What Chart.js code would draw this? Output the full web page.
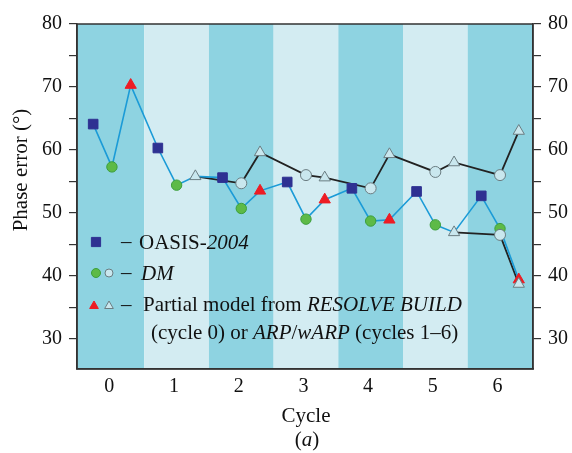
<!DOCTYPE html>
<html>
<head>
<meta charset="utf-8">
<script src="https://cdn.jsdelivr.net/npm/chart.js@4.4.0/dist/chart.umd.min.js"></script>
<style>
  html, body { margin: 0; padding: 0; background: #fff; }
</style>
</head>
<body>
<canvas id="phaseChart" width="572" height="453"></canvas>
<script>
// values, one entry per refinement cycle
const cycles = [0, 1, 2, 3, 4, 5, 6]
const oasis = [64.1, 60.3, 55.6, 54.9, 53.9, 53.4, 52.7]
const dmFilled = [57.3, 54.4, 50.7, 49.0, 48.7, 48.1, 47.5]
const partialFilled = [70.3, null, 53.5, 52.1, 48.9, null, 39.4]
const dmOpen = [null, null, 54.7, 56.0, 53.9, 56.5, 56.0]
const partialOpenUpper = [null, 55.8, 59.6, 55.6, 59.3, 58.0, 63.0]
const dmOpenLower = [null, null, null, null, null, null, 46.5]
const partialOpenLower = [null, null, null, null, null, 46.9, 38.7]

const yTicks = [30, 35, 40, 45, 50, 55, 60, 65, 70, 75, 80]

const legendRows = [
  [['OASIS-', false], ['2004', true]],
  [['DM', true]],
  [['Partial model from ', false], ['RESOLVE BUILD', true]],
  [['(cycle 0) or ', false], ['ARP', true], ['/', false], ['wARP', true], [' (cycles 1\u20136)', false]]
]

// where each marker sits inside its cycle band
const OFF_OASIS = -0.25
const OFF_DM = 0.04
const OFF_PARTIAL = 0.33
const BAND_SHIFT = 0.54

const SERIF = "'Liberation Serif', 'Times New Roman', serif"
const NAVY = '#2e3192'
const GREEN = '#5dba47'
const RED = '#ed1c24'
const PALE = '#c9e7ee'
const LINE_BLUE = '#1b9bd7'
const LINE_BLACK = '#222'

const pts = (vals, off) => cycles
  .map((c, i) => vals[i] == null ? null : { x: c + off, y: vals[i] })
  .filter(Boolean)

const bluePath = cycles.flatMap((c, i) => [
  { x: c + OFF_OASIS, y: oasis[i] },
  { x: c + OFF_DM, y: dmFilled[i] },
  { x: c + OFF_PARTIAL, y: partialFilled[i] ?? partialOpenLower[i] ?? partialOpenUpper[i] }
])

const blackPath = (dmVals, partVals) => cycles.flatMap((c, i) => [
  dmVals[i] != null && { x: c + OFF_DM, y: dmVals[i] },
  partVals[i] != null && { x: c + OFF_PARTIAL, y: partVals[i] }
]).filter(Boolean)

const lineSet = (data, color, width) => ({
  data, showLine: true, borderColor: color, borderWidth: width,
  pointRadius: 0, order: 3
})

const markerSet = (data, style, radius, fill, stroke, order) => ({
  data, showLine: false, pointStyle: style, pointRadius: radius,
  backgroundColor: fill, borderColor: stroke, borderWidth: 1, order
})

const bandPlugin = {
  id: 'bands',
  beforeDraw(chart) {
    const { ctx, chartArea: a, scales: { x } } = chart
    ctx.save()
    ctx.fillStyle = '#fff'
    ctx.fillRect(0, 0, chart.width, chart.height)
    const edges = [x.min, ...cycles.slice(0, -1).map(c => c + BAND_SHIFT), x.max]
    for (let i = 0; i < edges.length - 1; i++) {
      const l = x.getPixelForValue(edges[i])
      const r = x.getPixelForValue(edges[i + 1])
      ctx.fillStyle = i % 2 === 0 ? '#8ed3e1' : '#d3ecf2'
      ctx.fillRect(l, a.top, r - l, a.bottom - a.top)
    }
    ctx.restore()
  }
}

const drawRuns = (ctx, x, y, runs, size) => {
  runs.forEach(([text, italic]) => {
    ctx.font = (italic ? 'italic ' : '') + size + 'px ' + SERIF
    ctx.fillText(text, x, y)
    x += ctx.measureText(text).width
  })
}

const runsWidth = (ctx, runs, size) => runs.reduce((w, [text, italic]) => {
  ctx.font = (italic ? 'italic ' : '') + size + 'px ' + SERIF
  return w + ctx.measureText(text).width
}, 0)

const marker = (ctx, style, r, fill, stroke, x, y) => {
  ctx.fillStyle = fill
  ctx.strokeStyle = stroke
  ctx.lineWidth = 1
  Chart.helpers.drawPoint(ctx, { pointStyle: style, radius: r, rotation: 0, borderWidth: 1 }, x, y)
}

const decorPlugin = {
  id: 'decor',
  afterDraw(chart) {
    const { ctx, chartArea: a } = chart
    ctx.save()
    ctx.strokeStyle = '#333'
    ctx.lineWidth = 1.5
    ctx.strokeRect(a.left, a.top, a.right - a.left, a.bottom - a.top)

    // legend inside the plot
    marker(ctx, 'rect', 6.5, NAVY, NAVY, 96, 242)
    marker(ctx, 'circle', 4.5, GREEN, '#3c9f3c', 96, 273)
    marker(ctx, 'circle', 4, PALE, '#6b7d82', 109, 273)
    marker(ctx, 'triangle', 5, RED, RED, 94, 306)
    marker(ctx, 'triangle', 5, PALE, '#6b7d82', 109, 306)

    ctx.fillStyle = '#111'
    ctx.textBaseline = 'middle'
    ctx.textAlign = 'left'
    ctx.font = '21px ' + SERIF
    ;[242, 273, 305].forEach(y => ctx.fillText('\u2013', 121, y))
    drawRuns(ctx, 139, 243, legendRows[0], 21)
    drawRuns(ctx, 141, 274, legendRows[1], 21)
    drawRuns(ctx, 143, 305, legendRows[2], 21)
    drawRuns(ctx, 151, 333, legendRows[3], 21)

    // axis titles
    ctx.textBaseline = 'alphabetic'
    ctx.textAlign = 'center'
    ctx.font = '21px ' + SERIF
    ctx.fillText('Cycle', 306, 422)
    const sub = [['(', false], ['a', true], [')', false]]
    ctx.textAlign = 'left'
    drawRuns(ctx, 307 - runsWidth(ctx, sub, 21) / 2, 446, sub, 21)

    ctx.translate(21, 170)
    ctx.rotate(-Math.PI / 2)
    ctx.textAlign = 'center'
    ctx.textBaseline = 'middle'
    ctx.font = '21px ' + SERIF
    ctx.fillText('Phase error (\u00b0)', 0, 0)
    ctx.restore()
  }
}

const yAxis = (position, width) => ({
  type: 'linear', position, min: 25.2, max: 80,
  afterBuildTicks: axis => { axis.ticks = yTicks.map(v => ({ value: v })) },
  afterFit: axis => { axis.width = width },
  ticks: {
    color: '#111', padding: 7, font: { family: SERIF, size: 20 },
    callback: v => v % 10 === 0 ? v : ''
  },
  grid: { drawOnChartArea: false, drawTicks: true, tickLength: 8, color: '#333', lineWidth: 1.2 },
  border: { display: true, color: '#333', width: 1.5 }
})

new Chart(document.getElementById('phaseChart'), {
  type: 'scatter',
  data: {
    datasets: [
      lineSet(bluePath, LINE_BLUE, 1.6),
      lineSet(blackPath(dmOpen, partialOpenUpper), LINE_BLACK, 1.8),
      lineSet(blackPath(dmOpenLower, partialOpenLower), LINE_BLACK, 1.8),
      markerSet(pts(oasis, OFF_OASIS), 'rect', 6.8, NAVY, NAVY, 2),
      markerSet(pts(dmFilled, OFF_DM), 'circle', 5.2, GREEN, '#3c9f3c', 2),
      markerSet(pts(partialFilled, OFF_PARTIAL), 'triangle', 6.5, RED, RED, 2),
      markerSet(pts(dmOpen, OFF_DM), 'circle', 5.5, PALE, '#6b7d82', 1),
      markerSet(pts(dmOpenLower, OFF_DM), 'circle', 5.5, PALE, '#6b7d82', 1),
      markerSet(pts(partialOpenUpper, OFF_PARTIAL), 'triangle', 6.5, PALE, '#6b7d82', 1),
      markerSet(pts(partialOpenLower, OFF_PARTIAL), 'triangle', 6.5, PALE, '#6b7d82', 1)
    ]
  },
  options: {
    responsive: false,
    animation: false,
    devicePixelRatio: 1,
    layout: { padding: { top: 24, left: 0, right: 0, bottom: 0 } },
    plugins: { legend: { display: false }, tooltip: { enabled: false } },
    scales: {
      x: {
        type: 'linear', min: -0.5, max: 6.55,
        afterBuildTicks: axis => { axis.ticks = cycles.map(v => ({ value: v })) },
        afterFit: axis => { axis.height = 84 },
        ticks: { color: '#111', padding: 6, font: { family: SERIF, size: 20 } },
        grid: { display: false, drawTicks: false },
        border: { display: true, color: '#333', width: 1.5 }
      },
      y: yAxis('left', 77),
      y2: yAxis('right', 39)
    }
  },
  plugins: [bandPlugin, decorPlugin]
})
</script>
</body>
</html>
